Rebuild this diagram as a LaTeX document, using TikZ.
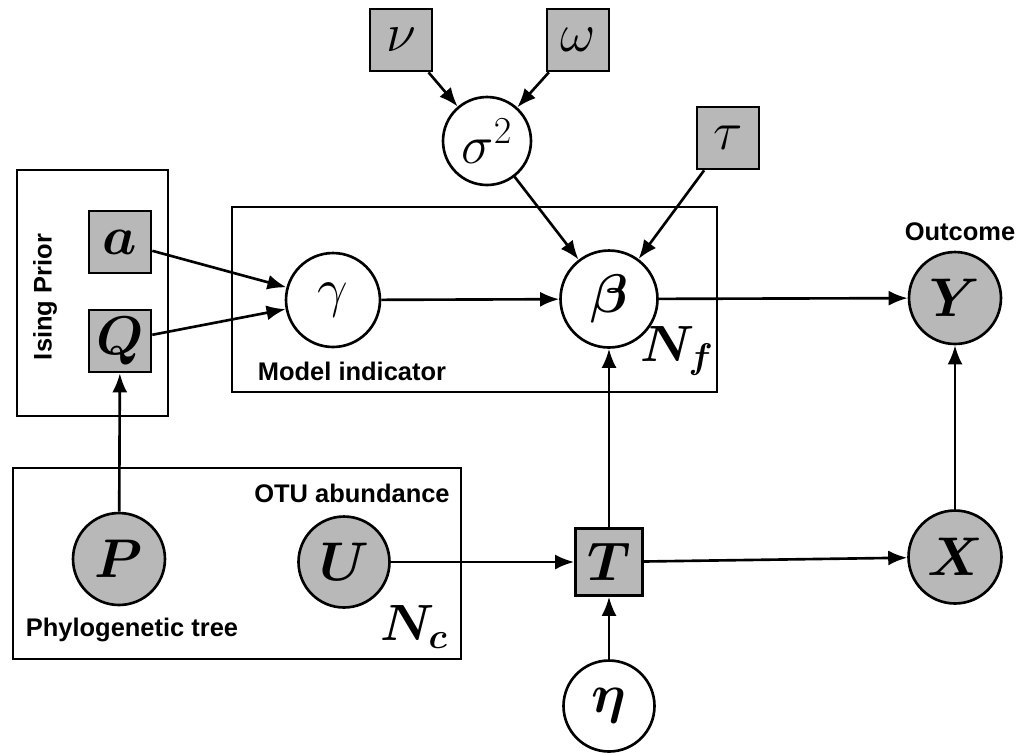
\RequirePackage{fix-cm}
\documentclass[tikz,border=0pt]{standalone}
\usepackage{fontspec}
\usepackage{bm}
\newfontfamily\lbl{Liberation Sans}
\usetikzlibrary{arrows.meta}
\begin{document}
\begin{tikzpicture}[x=0.02cm,y=-0.02cm,
  every node/.style={font=\fontsize{31}{34}\selectfont},
  hid/.style={circle,draw,line width=1.5pt,fill=white,inner sep=0pt},
  obs/.style={circle,draw,line width=1.5pt,fill=black!28,inner sep=0pt},
  hyp/.style={rectangle,draw,line width=1.5pt,fill=black!28,inner sep=0pt,minimum size=1.24cm},
  plate/.style={draw,line width=1.4pt},
  txt/.style={font=\lbl\bfseries\fontsize{14.5}{16}\selectfont,inner sep=0pt},
  edge/.style={line width=1.5pt,-{Latex[length=0.38cm,width=0.3cm]}}
]
\useasboundingbox (0,0) rectangle (1018,752);
% plates
\draw[plate] (17,170) rectangle (168,416);
\draw[plate] (232,207) rectangle (717,392);
\draw[plate] (13,468) rectangle (461,659);
% nodes
\node[hyp] (a) at (120,242) {$\bm{a}$};
\node[hyp] (Q) at (120,341) {$\bm{Q}$};
\node[hyp] (nu) at (401,40) {$\nu$};
\node[hyp] (om) at (578,40) {$\omega$};
\node[hyp] (tau) at (728,138) {$\tau$};
\node[hid,minimum size=1.76cm] (s) at (487,141) {$\sigma^2$};
\node[hid,minimum size=1.88cm] (g) at (333,300) {$\gamma$};
\node[hid,minimum size=1.94cm] (b) at (609,299) {$\bm{\beta}$};
\node[obs,minimum size=1.84cm] (Y) at (955,298) {$\bm{Y}$};
\node[obs,minimum size=1.86cm] (X) at (955,557) {$\bm{X}$};
\node[hyp,minimum size=1.34cm] (T) at (609,562) {$\bm{T}$};
\node[hid,minimum size=1.82cm] (eta) at (609,706) {$\bm{\eta}$};
\node[obs,minimum size=1.84cm] (P) at (119,559) {$\bm{P}$};
\node[obs,minimum size=1.82cm] (U) at (344,562) {$\bm{U}$};
% labels
\node[txt,rotate=90] (ising) at (45,297) {Ising Prior};
\node[txt] (mi) at (352,371) {Model indicator};
\node[txt] (out) at (960,232) {Outcome};
\node[txt] (otu) at (352,493) {OTU abundance};
\node[txt] (phy) at (132,630) {Phylogenetic tree};
\node[inner sep=0pt,font=\fontsize{29}{30}\selectfont] (nf) at (677,351) {$\bm{N_f}$};
\node[inner sep=0pt,font=\fontsize{29}{30}\selectfont] (nc) at (414,627) {$\bm{N_c}$};
% edges
\draw[edge] (a) -- (g);
\draw[edge] (Q) -- (g);
\draw[edge] (nu) -- (s);
\draw[edge] (om) -- (s);
\draw[edge] (s) -- (b);
\draw[edge] (tau) -- (b);
\draw[edge] (g) -- (b);
\draw[edge] (b) -- (Y);
\draw[edge] (T) -- (b);
\draw[edge] (P) -- (Q);
\draw[edge] (U) -- (T);
\draw[edge] (T) -- (X);
\draw[edge] (X) -- (Y);
\draw[edge] (eta) -- (T);
\end{tikzpicture}
\end{document}
